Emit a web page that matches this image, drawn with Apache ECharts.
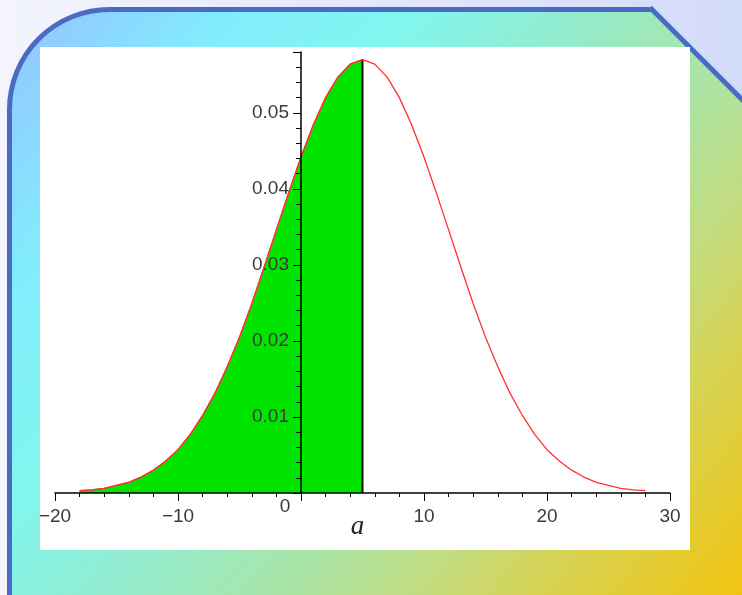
<!DOCTYPE html>
<html>
<head>
<meta charset="utf-8">
<script src="https://cdn.jsdelivr.net/npm/echarts@6/dist/echarts.min.js"></script>
<style>
html,body{margin:0;padding:0;}
#main{width:742px;height:595px;}
</style>
</head>
<body>
<div id="main"></div>
<script>
// values
var xValues = [-18,-17,-16,-15,-14,-13,-12,-11,-10,-9,-8,-7,-6,-5,-4,-3,-2,-1,0,1,2,3,4,5,
               6,7,8,9,10,11,12,13,14,15,16,17,18,19,20,21,22,23,24,25,26,27,28];
var density = [0.0003,0.0004,0.0006,0.0010,0.0014,0.0021,0.0030,0.0042,0.0057,0.0077,0.0102,0.0131,
               0.0166,0.0205,0.0249,0.0297,0.0346,0.0395,0.0442,0.0484,0.0520,0.0547,0.0564,0.0570,
               0.0564,0.0547,0.0520,0.0484,0.0442,0.0395,0.0346,0.0297,0.0249,0.0205,0.0166,0.0131,
               0.0102,0.0077,0.0057,0.0042,0.0030,0.0021,0.0014,0.0010,0.0006,0.0004,0.0003];
var aValue = 5;
var xRange = [-20, 30];
var yRange = [0, 0.058];

var curve = xValues.map(function (x, i) { return [x, density[i]]; });
var shaded = curve.filter(function (p) { return p[0] <= aValue; });
var aHeight = density[xValues.indexOf(aValue)];

var gridW = 615;
// the y axis sits at x = 0, inside the grid
var yAxisShift = -gridW * (0 - xRange[0]) / (xRange[1] - xRange[0]);

var labelFont = 'Liberation Sans, Arial, sans-serif';
var labelColor = '#3a3a3a';

// page background (same gradient used to cut the top right corner)
var pageBg = new echarts.graphic.LinearGradient(0, 0, 742, 0, [
    { offset: 0, color: '#f3f4fd' }, { offset: 1, color: '#d3dbfa' }], true);

var myChart = echarts.init(document.getElementById('main'));
myChart.setOption({
    animation: false,
    graphic: [
        { type: 'rect', silent: true, z: -30,
          shape: { x: 0, y: 0, width: 742, height: 595 },
          style: { fill: pageBg } },
        { type: 'rect', silent: true, z: -25,
          shape: { x: 9.5, y: 9.5, width: 760, height: 610, r: [100, 0, 0, 0] },
          style: { stroke: '#4a6bc4', lineWidth: 5,
                   fill: new echarts.graphic.LinearGradient(0, 0, 1, 1, [
                       { offset: 0, color: '#96c0ff' },
                       { offset: 0.18, color: '#82ecfd' },
                       { offset: 0.32, color: '#80f6ee' },
                       { offset: 0.45, color: '#92ecd0' },
                       { offset: 0.6, color: '#aae4a4' },
                       { offset: 0.7, color: '#c2dc80' },
                       { offset: 0.8, color: '#d8d250' },
                       { offset: 1, color: '#f8c000' }]) } },
        { type: 'polygon', silent: true, z: -22,
          shape: { points: [[642.5, 0], [760, 0], [760, 117.5]] },
          style: { fill: pageBg } },
        { type: 'line', silent: true, z: -21,
          shape: { x1: 650, y1: 7.5, x2: 760, y2: 117.5 },
          style: { stroke: '#4a6bc4', lineWidth: 5 } },
        { type: 'rect', silent: true, z: -10,
          shape: { x: 40, y: 47, width: 650, height: 503 },
          style: { fill: '#ffffff' } }
    ],
    grid: { left: 55, top: 52, width: gridW, height: 441, outerBoundsMode: 'none' },
    xAxis: {
        type: 'value', min: xRange[0], max: xRange[1], interval: 10, z: 10,
        name: 'a', nameLocation: 'middle', nameGap: 20, nameMoveOverlap: false,
        nameTextStyle: { fontFamily: 'Liberation Serif, serif', fontStyle: 'italic', fontSize: 27,
                         color: '#222', padding: [0, 10, 0, 0] },
        axisLine: { onZero: false, lineStyle: { color: '#000', width: 1.5 } },
        axisTick: { length: 8, lineStyle: { color: '#000' } },
        minorTick: { show: true, splitNumber: 5, length: 4, lineStyle: { color: '#000' } },
        splitLine: { show: false },
        axisLabel: {
            margin: 2,
            formatter: function (v) {
                if (v === 0) return '{z|0}';
                return '{n|' + (v < 0 ? '\u2212' + (-v) : v) + '}';
            },
            rich: {
                n: { padding: [12, 0, 0, 0], fontSize: 19, fontFamily: labelFont, color: labelColor },
                z: { padding: [2, 32, 0, 0], fontSize: 19, fontFamily: labelFont, color: labelColor }
            }
        }
    },
    yAxis: {
        type: 'value', min: yRange[0], max: yRange[1], interval: 0.01, z: 10,
        offset: yAxisShift,
        axisLine: { show: true, onZero: false, lineStyle: { color: '#000', width: 1.5 } },
        axisTick: { show: true, length: 8, lineStyle: { color: '#000' } },
        minorTick: { show: true, splitNumber: 5, length: 5, lineStyle: { color: '#000' } },
        splitLine: { show: false },
        axisLabel: {
            margin: 12, fontSize: 19, fontFamily: labelFont, color: labelColor,
            formatter: function (v) {
                var k = v * 100;
                return (v > 0 && Math.abs(k - Math.round(k)) < 1e-6) ? v.toFixed(2) : '';
            }
        }
    },
    series: [
        {
            name: 'shaded', type: 'line', data: shaded, symbol: 'none',
            lineStyle: { color: '#ff3030', width: 1.2 },
            areaStyle: { color: '#00e400', opacity: 1, origin: 'start' },
            z: 2
        },
        {
            name: 'a', type: 'line', data: [[aValue, 0], [aValue, aHeight]], symbol: 'none',
            lineStyle: { color: '#111', width: 2 },
            z: 3
        },
        {
            name: 'curve', type: 'line', data: curve, symbol: 'none',
            lineStyle: { color: '#ff3030', width: 1.3 },
            z: 4
        }
    ]
});
</script>
</body>
</html>
